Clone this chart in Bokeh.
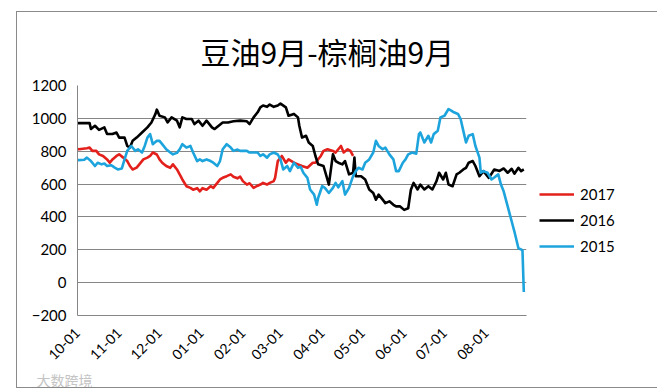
import math
import pandas as pd
from bokeh.plotting import figure
from bokeh.layouts import row, column
from bokeh.models import (Range1d, FixedTicker, DatetimeTickFormatter, Legend,
                          LegendItem, Spacer, Title)
from bokeh.embed import file_html
from bokeh.resources import INLINE

# ---------------- data (day offset from 10-01 of the season, value) -------------
season_start = "2016-10-01"
season_end = "2017-08-31"
month_ticks = ["2016-10-01", "2016-11-01", "2016-12-01", "2017-01-01", "2017-02-01",
               "2017-03-01", "2017-04-01", "2017-05-01", "2017-06-01", "2017-07-01",
               "2017-08-01"]
y_ticks = [-200, 0, 200, 400, 600, 800, 1000, 1200]
title_text = "豆油9月-棕榈油9月"
watermark_text = "大数跨境"

red_day = [0, 1, 7, 9, 11, 14, 16, 19, 22, 24, 26, 29, 31, 34, 37, 39, 41, 44, 46, 49,
           52, 54, 56, 59, 61, 63, 66, 69, 71, 74, 76, 78, 81, 84, 86, 89, 91, 93, 96,
           99, 101, 104, 106, 108, 111, 114, 116, 119, 121, 123, 126, 128, 131, 134,
           136, 138, 141, 143, 146, 147, 149, 152, 155, 157, 161, 164, 167, 171, 175,
           177, 181, 183, 186, 190, 192, 196, 198, 201, 203, 205]
red_val = [814, 812, 818, 822, 802, 802, 781, 771, 750, 730, 750, 771, 781, 761, 740,
           710, 689, 700, 720, 750, 761, 771, 792, 780, 750, 730, 710, 699, 720, 689,
           659, 628, 587, 577, 566, 575, 556, 575, 566, 587, 577, 607, 628, 638, 648,
           659, 645, 635, 645, 618, 597, 605, 577, 590, 597, 607, 597, 607, 618, 638,
           740, 771, 730, 750, 730, 720, 710, 699, 730, 730, 771, 802, 812, 802, 792,
           832, 792, 812, 802, 771]

black_day = [0, 1, 9, 10, 13, 16, 20, 22, 26, 29, 31, 35, 37, 39, 41, 44, 48, 52, 55,
             58, 59, 61, 65, 67, 70, 74, 76, 78, 81, 85, 87, 90, 93, 96, 100, 102, 105,
             108, 112, 116, 121, 126, 128, 131, 134, 136, 138, 141, 143, 146, 149, 151,
             155, 157, 161, 164, 165, 167, 170, 172, 175, 177, 179, 183, 186, 187, 190,
             192, 194, 197, 199, 202, 205, 206, 207, 211, 214, 217, 220, 222, 224, 227,
             229, 232, 235, 237, 240, 243, 246, 248, 250, 253, 255, 258, 261, 264, 267,
             269, 272, 274, 276, 279, 282, 284, 287, 289, 291, 294, 296, 299, 302, 306,
             310, 314, 317, 320, 323, 325, 328, 330, 332]
black_val = [970, 971, 971, 935, 955, 930, 945, 905, 905, 914, 883, 883, 832, 822, 863,
             883, 914, 945, 975, 1027, 1053, 1016, 1006, 975, 1006, 986, 945, 1006, 996,
             996, 965, 986, 955, 986, 945, 935, 955, 975, 975, 982, 986, 982, 965, 1006,
             1037, 1067, 1078, 1070, 1084, 1070, 1078, 1090, 1067, 1016, 1027, 1006, 955,
             883, 894, 853, 832, 771, 720, 710, 626, 597, 781, 740, 730, 720, 740, 659,
             669, 761, 648, 648, 628, 567, 546, 505, 536, 505, 484, 495, 474, 464, 464,
             443, 453, 566, 607, 567, 597, 567, 587, 567, 617, 669, 628, 669, 597, 587,
             659, 669, 689, 699, 730, 740, 710, 648, 679, 638, 689, 680, 695, 669, 693,
             663, 699, 679, 689]

blue_day = [0, 1, 5, 7, 10, 13, 15, 18, 20, 22, 25, 28, 30, 33, 35, 37, 40, 43, 45, 48,
            50, 52, 54, 56, 59, 61, 63, 66, 69, 71, 74, 76, 78, 81, 84, 86, 89, 91, 93,
            96, 99, 101, 104, 106, 108, 111, 114, 116, 119, 121, 123, 126, 128, 131, 134,
            136, 138, 141, 143, 146, 149, 151, 153, 156, 158, 161, 164, 166, 168, 171,
            173, 176, 178, 179, 182, 184, 187, 190, 192, 194, 197, 199, 202, 205, 207,
            209, 212, 214, 217, 220, 222, 224, 227, 229, 232, 235, 237, 239, 242, 244,
            246, 249, 252, 254, 255, 258, 261, 263, 265, 268, 270, 273, 276, 278, 280,
            283, 285, 287, 289, 291, 294, 296, 299, 300, 302, 305, 308, 310, 313, 315,
            317, 320, 323, 325, 328, 331, 332]
blue_val = [747, 746, 748, 761, 740, 710, 730, 720, 725, 710, 715, 699, 689, 695, 750,
            802, 832, 802, 812, 792, 832, 883, 904, 843, 863, 863, 843, 812, 792, 781,
            790, 812, 843, 822, 832, 792, 740, 750, 740, 750, 740, 730, 710, 740, 812,
            843, 822, 802, 810, 802, 802, 802, 792, 792, 792, 771, 781, 761, 781, 792,
            780, 750, 689, 710, 679, 730, 699, 705, 669, 638, 567, 536, 474, 515, 587,
            577, 546, 577, 607, 580, 618, 536, 577, 648, 679, 699, 689, 730, 750, 792,
            863, 832, 812, 822, 781, 750, 679, 679, 730, 750, 781, 792, 785, 904, 914,
            853, 894, 853, 904, 924, 1006, 1016, 1057, 1047, 1037, 1027, 996, 924, 853,
            894, 904, 832, 761, 669, 679, 669, 628, 640, 659, 597, 556, 464, 372, 311,
            209, 198, -57]

series_names = ["2017", "2016", "2015"]
series_colors = ["#e3201b", "#000000", "#1ea4dc"]

# ---------------------------------------------------------------------------------
base = pd.Timestamp(season_start)


def to_dates(days):
    return [base + pd.Timedelta(days=int(d)) for d in days]


FONT = "Lato"
GRID = "#868686"

p = figure(
    x_axis_type="datetime",
    frame_width=447, frame_height=228,
    min_border_left=60, min_border_right=116, min_border_top=73, min_border_bottom=69,
    x_range=Range1d(pd.Timestamp(season_start), pd.Timestamp(season_end)),
    y_range=Range1d(-200, 1200),
    output_backend="svg", toolbar_location=None,
    styles={"border": "1px solid #8a8a8a"},
)
p.outline_line_color = None
p.background_fill_color = "white"
p.border_fill_color = "white"

# title (left aligned with an offset so it sits centred on the whole chart box)
p.title.text = title_text
p.title.align = "left"
p.title.offset = 123
p.title.standoff = 26
p.title.text_font = "Noto Sans CJK SC"
p.title.text_font_size = "30px"
p.title.text_font_style = "normal"
p.title.text_color = "#000000"

# y axis
p.yaxis.ticker = FixedTicker(ticks=y_ticks)
p.yaxis.axis_line_color = GRID
p.yaxis.major_tick_out = 0
p.yaxis.major_tick_in = 0
p.yaxis.minor_tick_out = 0
p.yaxis.minor_tick_in = 0
p.yaxis.major_label_standoff = 11
p.yaxis.major_label_text_font = FONT
p.yaxis.major_label_text_font_size = "15px"
p.yaxis.major_label_text_color = "#000000"

# x axis
tick_ms = [pd.Timestamp(t).value // 10**6 for t in month_ticks]
p.xaxis.ticker = FixedTicker(ticks=tick_ms)
fmt = "%m-%d"
p.xaxis.formatter = DatetimeTickFormatter(
    microseconds=fmt, milliseconds=fmt, seconds=fmt, minsec=fmt, minutes=fmt,
    hourmin=fmt, hours=fmt, days=fmt, months=fmt, years=fmt)
p.xaxis.axis_line_color = GRID
p.xaxis.major_tick_out = 0
p.xaxis.major_tick_in = 0
p.xaxis.minor_tick_out = 0
p.xaxis.minor_tick_in = 0
p.xaxis.major_label_orientation = math.pi / 4
p.xaxis.major_label_standoff = 15
p.xaxis.major_label_text_font = FONT
p.xaxis.major_label_text_font_size = "14px"
p.xaxis.major_label_text_color = "#000000"

p.xgrid.grid_line_color = None
p.ygrid.grid_line_color = GRID
p.ygrid.grid_line_width = 1

renderers = []
for name, color, days, vals in [
        (series_names[0], series_colors[0], red_day, red_val),
        (series_names[1], series_colors[1], black_day, black_val),
        (series_names[2], series_colors[2], blue_day, blue_val)]:
    r = p.line(to_dates(days), vals, line_color=color, line_width=2.6,
               line_join="round")
    renderers.append((name, r))

legend = Legend(items=[LegendItem(label=n, renderers=[r]) for n, r in renderers],
                location=(4, 50))
legend.label_text_font = FONT
legend.label_text_font_size = "15px"
legend.label_text_color = "#000000"
legend.glyph_width = 35
legend.glyph_height = 20
legend.label_height = 20
legend.label_standoff = 6
legend.spacing = 6
legend.padding = 9
legend.margin = 12
legend.border_line_alpha = 0
legend.background_fill_alpha = 0
p.add_layout(legend, "right")

wm = Title(text=watermark_text, align="left", offset=-41, standoff=0,
           text_font="Noto Sans CJK SC", text_font_size="14px",
           text_font_style="normal", text_color="#c4c4c4")
p.add_layout(wm, "below")

layout = row(Spacer(width=16), column(Spacer(height=11), p))

open("out.html", "w").write(file_html(layout, INLINE))
